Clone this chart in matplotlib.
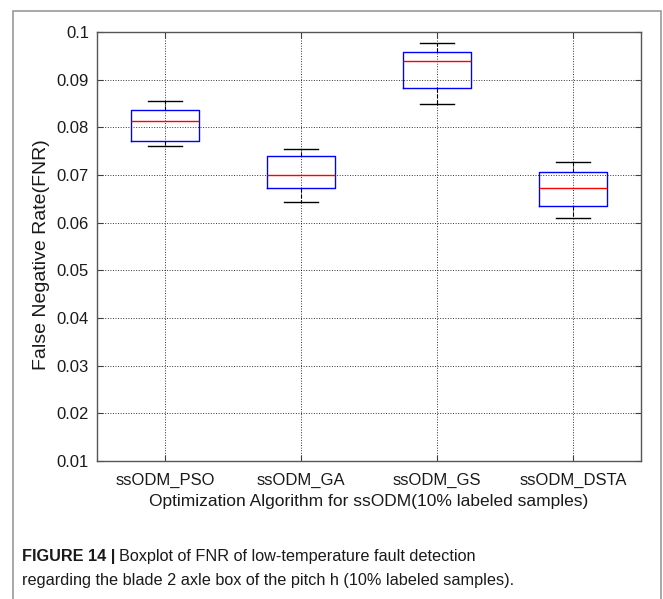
import matplotlib
matplotlib.use("Agg")
import matplotlib.pyplot as plt
from matplotlib.patches import Rectangle

plt.rcParams['font.family'] = ['Liberation Sans', 'DejaVu Sans']

categories = ["ssODM_PSO", "ssODM_GA", "ssODM_GS", "ssODM_DSTA"]
whisker_low = [0.0760, 0.0644, 0.0848, 0.0610]
q1 = [0.0771, 0.0672, 0.0882, 0.0634]
median = [0.0813, 0.0699, 0.0939, 0.0672]
q3 = [0.0837, 0.0740, 0.0959, 0.0707]
whisker_high = [0.0855, 0.0754, 0.0976, 0.0728]
yticks = [0.01, 0.02, 0.03, 0.04, 0.05, 0.06, 0.07, 0.08, 0.09, 0.1]
ytick_labels = ["0.01", "0.02", "0.03", "0.04", "0.05", "0.06", "0.07", "0.08", "0.09", "0.1"]

W, H = 663, 599
fig = plt.figure(figsize=(W / 100, H / 100), dpi=100)

# outer frame
fig.patches.append(Rectangle((13 / W, -0.01), (661 - 13) / W, (H - 11) / H + 0.01,
                             transform=fig.transFigure, fill=False,
                             edgecolor='#9a9a9a', linewidth=1.2))

ax = fig.add_axes([97 / W, 1 - 461 / H, (641 - 97) / W, (461 - 32) / H])

stats = []
for i, c in enumerate(categories):
    stats.append(dict(label=c, whislo=whisker_low[i], q1=q1[i], med=median[i],
                      q3=q3[i], whishi=whisker_high[i], fliers=[]))

ax.bxp(stats, positions=range(1, len(categories) + 1), widths=0.5, showfliers=False,
       boxprops=dict(color='#0000ff', linewidth=1.0),
       medianprops=dict(color='#ff0000', linewidth=1.0),
       whiskerprops=dict(color='black', linewidth=0.8, linestyle='--'),
       capprops=dict(color='black', linewidth=1.0), capwidths=0.25)

ax.set_xlim(0.5, 4.5)
ax.set_ylim(0.01, 0.1)
ax.set_yticks(yticks)
ax.set_yticklabels(ytick_labels)
ax.set_xticks(range(1, len(categories) + 1))
ax.set_xticklabels(categories)
ax.grid(True, color='black', linestyle=':', linewidth=0.7, alpha=0.8)
ax.set_axisbelow(True)
ax.tick_params(direction='in', labelsize=12, colors='#404040', labelcolor='#1a1a1a',
               length=4, top=True, right=True)
ax.tick_params(axis='x', pad=8.5)
ax.tick_params(axis='y', pad=5.8)
for s in ax.spines.values():
    s.set_color('#555555')
    s.set_linewidth(1.0)

ax.set_ylabel("False Negative Rate(FNR)", fontsize=14, color='#1a1a1a')
ax.yaxis.set_label_coords((50 - 97) / 544, 0.48)
ax.set_xlabel("Optimization Algorithm for ssODM(10% labeled samples)", fontsize=12.5,
              color='#1a1a1a')
ax.xaxis.set_label_coords(0.5, (461 - 494) / 429)

# caption
y1 = 1 - 557 / H
y2 = 1 - 581 / H
t_bold = fig.text(22 / W, y1, "FIGURE 14 |", fontsize=11.7, fontweight='bold',
                  va='center', ha='left', color='#1a1a1a')
fig.canvas.draw()
bb = t_bold.get_window_extent(renderer=fig.canvas.get_renderer())
fig.text((bb.x1 + 4) / W, y1, "Boxplot of FNR of low-temperature fault detection",
         fontsize=11.7, va='center', ha='left', color='#1a1a1a')
fig.text(22 / W, y2,
         "regarding the blade 2 axle box of the pitch h (10% labeled samples).",
         fontsize=11.7, va='center', ha='left', color='#1a1a1a')

fig.savefig("out.png", dpi=100)
